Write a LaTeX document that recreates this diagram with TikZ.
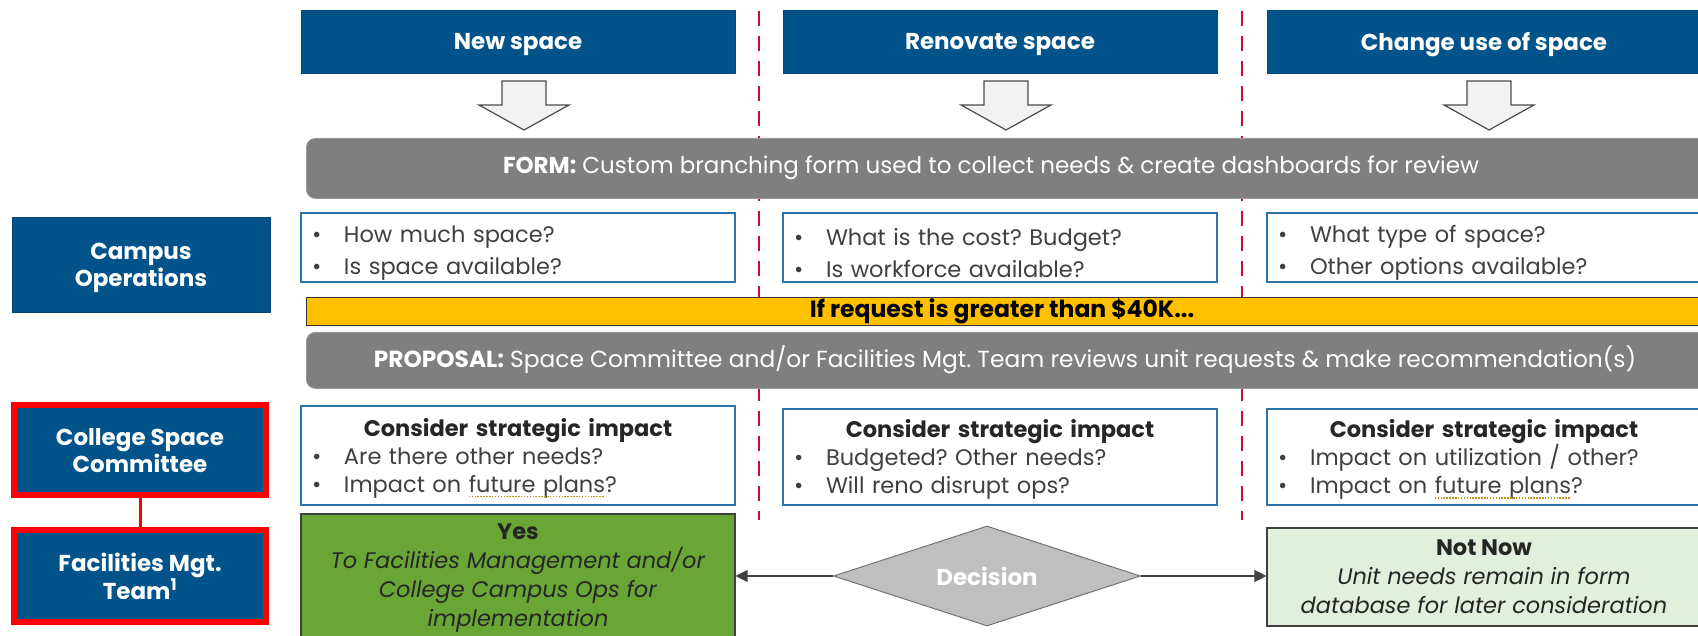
\documentclass[tikz,border=0pt]{standalone}
\usepackage{fontspec}
\setmainfont{Poppins}
\usetikzlibrary{shapes.geometric,arrows.meta}
\frenchspacing

\definecolor{hdrblue}{RGB}{2,83,138}
\definecolor{bargray}{RGB}{127,127,127}
\definecolor{boxline}{RGB}{46,117,170}
\definecolor{warnyellow}{RGB}{255,192,0}
\definecolor{yesgreen}{RGB}{106,166,54}
\definecolor{laterfill}{RGB}{226,239,218}
\definecolor{decfill}{RGB}{191,191,191}
\definecolor{divred}{RGB}{200,16,46}
\definecolor{teamred}{RGB}{255,0,0}
\definecolor{bodytext}{RGB}{64,64,64}
\definecolor{darktext}{RGB}{38,38,38}
\definecolor{spellgold}{RGB}{196,146,20}

% bullet line, top struts and dotted spell-check underline
\newcommand\bl[1]{\makebox[32pt][l]{\textbullet}#1}
\newcommand\qstrut{\rule{0pt}{28pt}}
\newcommand\sstrut{\rule{0pt}{23.5pt}}
\newsavebox\spellbox
\newcommand\spellul[1]{\leavevmode\sbox\spellbox{#1}\rlap{\usebox\spellbox}%
  \hbox to \wd\spellbox{\color{spellgold}\leaders\hbox{\rule[-5pt]{1.5pt}{1.5pt}\kern1.4pt}\hfill}}

\tikzset{
  hdr/.style={fill=hdrblue, draw=hdrblue!85!black, line width=0.6pt, text=white,
    font=\fontsize{23}{27}\selectfont\bfseries, inner sep=0pt, align=center, text depth=0pt},
  qbox/.style={fill=white, draw=boxline, line width=1.2pt, inner xsep=11pt, inner ysep=0pt,
    minimum width=434pt, text width=412pt, align=left, text=bodytext,
    font=\fontsize{22.5}{31.5}\selectfont},
  sbox/.style={qbox, font=\fontsize{22.5}{28}\selectfont},
  graybar/.style={fill=bargray, draw=bargray!80!white, line width=0.8pt, rounded corners=9pt,
    anchor=north west, inner sep=0pt},
  bartext/.style={text=white, font=\fontsize{23}{26}\selectfont},
  teambox/.style={hdr, draw=teamred, line width=6pt, minimum width=252pt},
  outcome/.style={draw=black!75, line width=1.2pt, minimum width=434pt, inner sep=0pt,
    align=center, font=\fontsize{22.5}{29}\selectfont},
  conn/.style={draw=black!75, line width=1.4pt, -{Triangle[length=12pt,width=12pt]}},
  divider/.style={draw=divred, line width=2.4pt, dash pattern=on 15pt off 10pt},
  downarrow/.style={fill=black!5, draw=black!70, line width=1.2pt, line join=miter}
}

\begin{document}
\begin{tikzpicture}[x=1pt, y=-1pt]
\useasboundingbox (0,0) rectangle (1698,636);
\clip (0,0) rectangle (1698,636);

% column dividers
\coordinate (d1top) at (759,11);
\coordinate (d1bot) at (759,520);
\coordinate (d2top) at (1242,11);
\coordinate (d2bot) at (1242,520);
\draw[divider] (d1top) -- (d1bot);
\draw[divider] (d2top) -- (d2bot);

% request types
\node[hdr, minimum width=434pt, minimum height=63pt] (newsp) at (518,41.5) {New space};
\node[hdr, minimum width=434pt, minimum height=63pt] (renov) at (1000,41.5) {Renovate space};
\node[hdr, minimum width=434pt, minimum height=63pt] (chuse) at (1484,41.5) {Change use of space};

% block arrows into the form
\foreach \cx in {524,1006,1489}{
  \draw[downarrow] (\cx-22,81) -- (\cx+22,81) -- (\cx+22,105) -- (\cx+45,105)
    -- (\cx,130) -- (\cx-45,105) -- (\cx-22,105) -- cycle;
}

% form bar
\node[graybar, minimum width=1420pt, minimum height=60pt] (form) at (306,138) {};
\node[bartext] (formtext) at (991,168)
  {\textbf{FORM:} Custom branching form used to collect needs \& create dashboards for review};

% campus operations row
\node[hdr, minimum width=258pt, minimum height=95pt] (campus) at (141,264.5) {Campus\\Operations};
\node[qbox, minimum height=69pt] (q1) at (518,247.5) {\qstrut\bl{How much space?}\\\bl{Is space available?}};
\node[qbox, minimum height=69pt] (q2) at (1000,247.5) {\qstrut\bl{What is the cost? Budget?}\\\bl{Is workforce available?}};
\node[qbox, minimum height=69pt] (q3) at (1484,247.5) {\qstrut\bl{What type of space?}\\\bl{Other options available?}};

% threshold bar
\node[fill=warnyellow, draw=black!80, line width=1pt, anchor=north west, inner sep=0pt,
  minimum width=1400pt, minimum height=28pt] (thresh) at (306,297) {};
\node[font=\fontsize{23.5}{26}\selectfont\bfseries, text=black] (threshtext) at (1002,311)
  {If request is greater than \$40K...};

% proposal bar
\node[graybar, minimum width=1420pt, minimum height=56pt] (prop) at (306,332) {};
\node[bartext, font=\fontsize{23.3}{26}\selectfont] (proptext) at (1005,360)
  {\textbf{PROPOSAL:} Space Committee and/or Facilities Mgt. Team reviews unit requests \& make recommendation(s)};

% committee and team
\node[teambox, minimum height=90pt] (csc) at (140,450) {College Space\\Committee};
\node[teambox, minimum height=92pt] (fmt) at (140,576) {Facilities Mgt.\\Team\textsuperscript{1}};
\draw[draw=teamred, line width=3pt] (csc.south) -- (fmt.north);

% strategic impact boxes
\node[sbox, minimum height=99pt] (s1) at (518,455.5)
  {\sstrut\makebox[\hsize][c]{\bfseries\color{darktext}Consider strategic impact}\\
   \bl{Are there other needs?}\\\bl{Impact on \spellul{future plans}?}};
\node[sbox, minimum height=96pt] (s2) at (1000,457)
  {\sstrut\makebox[\hsize][c]{\bfseries\color{darktext}Consider strategic impact}\\
   \bl{Budgeted? Other needs?}\\\bl{Will reno disrupt ops?}};
\node[sbox, minimum height=96pt] (s3) at (1484,457)
  {\sstrut\makebox[\hsize][c]{\bfseries\color{darktext}Consider strategic impact}\\
   \bl{Impact on utilization / other?}\\\bl{Impact on \spellul{future plans}?}};

% decision and outcomes
\node[outcome, fill=yesgreen, minimum height=128pt, text=darktext] (yes) at (518,578)
  {\textbf{Yes}\\\textit{To Facilities Management and/or}\\\textit{College Campus Ops for}\\\textit{implementation}};
\node[outcome, fill=laterfill, minimum height=98pt, text=darktext] (later) at (1484,577)
  {\textbf{Not Now}\\\textit{Unit needs remain in form}\\\textit{database for later consideration}};
\node[diamond, shape aspect=3.07, fill=decfill, draw=black!55, line width=1pt, inner sep=0pt,
  minimum width=307pt, minimum height=100pt, text=white,
  font=\fontsize{23}{26}\selectfont\bfseries] (dec) at (987,576) {Decision};

\draw[conn] (dec.west) -- (dec.west -| yes.east);
\draw[conn] (dec.east) -- (dec.east -| later.west);
\end{tikzpicture}
\end{document}
